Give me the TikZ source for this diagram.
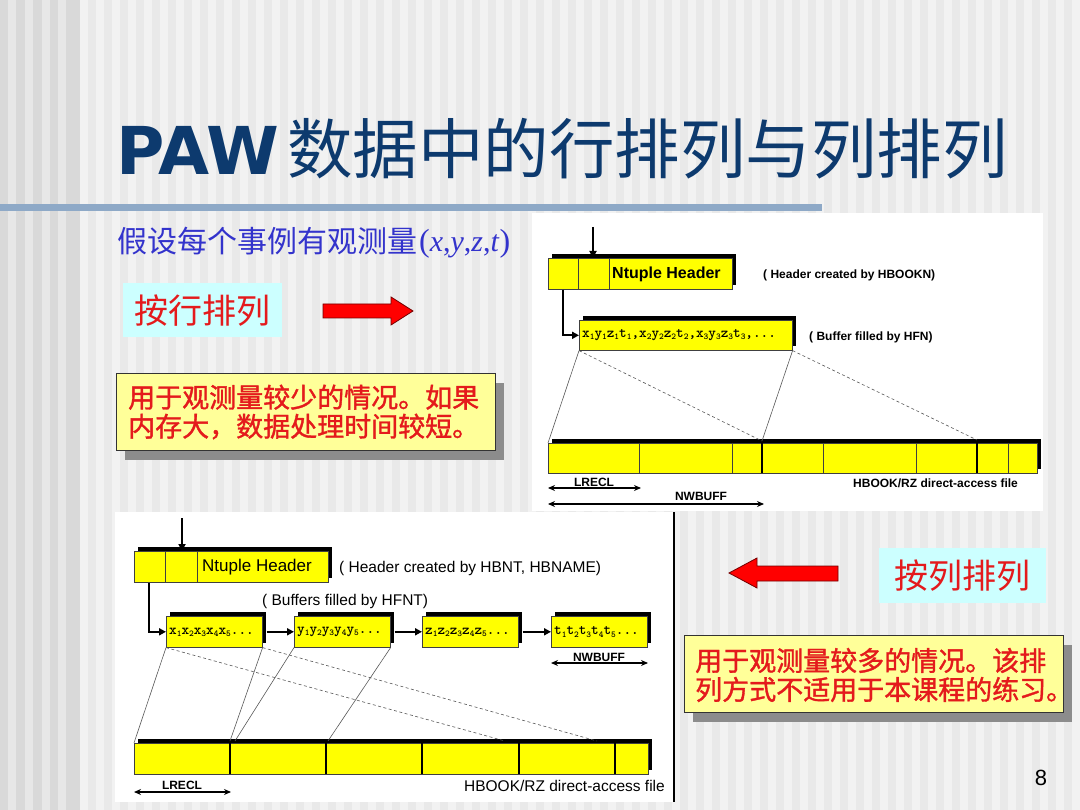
\documentclass[tikz,border=0pt]{standalone}
\usepackage{fontspec}
\setmainfont{Liberation Serif}
\newfontfamily\cjk{Noto Sans CJK SC}
\newfontfamily\cjkfb{Noto Sans CJK SC}[FakeBold=1.3]
\newfontfamily\arial{Liberation Sans}
\newfontfamily\djv{DejaVu Sans}
\newfontfamily\cour{lmmonolt10-bold.otf}
\usetikzlibrary{arrows.meta,shadows}
\definecolor{navy}{RGB}{13,58,110}
\definecolor{subblue}{RGB}{51,51,204}
\definecolor{txtred}{RGB}{228,26,28}
\definecolor{cyanbg}{RGB}{204,255,255}
\definecolor{noteyel}{RGB}{255,255,153}
\definecolor{diayel}{RGB}{255,255,0}
\definecolor{barblue}{RGB}{142,169,199}
\definecolor{bgmain}{RGB}{242,242,242}
\definecolor{bgstripe}{RGB}{233,233,233}
\definecolor{bgleft}{RGB}{217,217,217}
\definecolor{bgleftl}{RGB}{231,231,231}
\newcommand{\subn}[1]{\raisebox{-0.35ex}{\fontsize{9}{9}\selectfont#1}}
\newcommand{\fs}[1]{\fontsize{#1}{#1}\selectfont}
\begin{document}
\begin{tikzpicture}[x=1pt,y=-1pt,
  ybox/.style={fill=diayel, draw=black!75, line width=0.6, inner sep=0pt,
    anchor=north west,
    drop shadow={shadow xshift=4pt, shadow yshift=4pt, fill=black, opacity=1}},
  notebox/.style={fill=noteyel, draw=black!80, line width=0.8, inner sep=0pt, anchor=north west,
    drop shadow={shadow xshift=9pt, shadow yshift=-10pt, fill=black!45, opacity=1}},
  cyanbox/.style={fill=cyanbg, inner sep=0pt, anchor=north west, text=txtred, font=\cjk\fs{34}},
  conn/.style={line width=2, -{Triangle[length=7pt,width=7pt]}},
  dimarr/.style={line width=1.6, {Stealth[length=7pt,width=6pt]}-{Stealth[length=7pt,width=6pt]}},
  guide/.style={draw=black!65, line width=0.6},
  guided/.style={draw=black!65, line width=0.6, dash pattern=on 3pt off 2.5pt},
  thindiv/.style={draw=black!75, line width=0.6},
  thickdiv/.style={draw=black, line width=2.6},
  lbl/.style={inner sep=0pt, font=\arial\bfseries\fs{12}},
  lblr/.style={inner sep=0pt, font=\arial\fs{15.5}},
  buftext/.style={anchor=west, inner sep=0pt, font=\cour\fs{14.5}},
  redarrow/.style={fill=red, draw=red!45!black, line width=0.8},
  notetext/.style={inner sep=0pt, anchor=west, align=left, text=txtred, font=\cjkfb\fs{27}}
]
\useasboundingbox (0,0) rectangle (1080,810);
% background
\fill[bgmain] (0,0) rectangle (1080,810);
\foreach \i in {0,...,62} {\fill[bgstripe] (88+16*\i,0) rectangle ++(8,810);}
\fill[bgleft] (0,0) rectangle (80,810);
\foreach \xx in {8,25,42,58} {\fill[bgleftl] (\xx,0) rectangle ++(8,810);}
% title
\node[anchor=base west, inner sep=0pt, text=navy, font=\djv\bfseries\fs{66}] (tpaw) at (116,175) {PAW};
\node[anchor=base west, inner sep=0pt, text=navy, font=\cjk\fs{65.5}] (tcn) at (287,174) {数据中的行排列与列排列};
\fill[barblue] (0,204) rectangle (822,211);
% subtitle
\node[anchor=base west, inner sep=0pt, text=subblue, font=\cjk\fs{30}] (sub) at (117,253) {假设每个事例有观测量};
\node[anchor=base west, inner sep=0pt, text=subblue, font=\fs{30}] (subv) at (419,252)
  {\fs{32}(\fs{30}\textit{x},\textit{y},\textit{z},\textit{t}\fs{32})};
% white panels
\fill[white] (532,213) rectangle (1043,511);
\fill[white] (115,512) rectangle (673,802);
\draw[line width=1.4] (674,512) -- (674,802);

% ---------------- top diagram (row-wise)
\node[ybox, minimum width=184, minimum height=31] (h1) at (548,258) {};
\draw[thindiv] (578,258) -- (578,289);
\draw[thindiv] (609,258) -- (609,289);
\node[anchor=west, inner sep=0pt, font=\arial\bfseries\fs{16}] (h1t) at (612,274) {Ntuple Header};
\node[anchor=west, lbl] (h1c) at (763,275) {( Header created by HBOOKN)};
\coordinate (a1) at (593,227);
\draw[conn] (a1) -- (a1 |- h1.north);
\node[ybox, minimum width=213, minimum height=30] (b1) at (579,320) {};
\node[buftext] (b1t) at (582,335)
  {x\subn1y\subn1z\subn1t\subn1,x\subn2y\subn2z\subn2t\subn2,x\subn3y\subn3z\subn3t\subn3,...};
\node[anchor=west, lbl] (b1c) at (809,337) {( Buffer filled by HFN)};
\draw[conn] (h1.south west) ++(15,0) |- (b1.west);
\node[ybox, minimum width=489, minimum height=30] (f1) at (548,443) {};
\foreach \xx in {639,732,823,916,1008} {\draw[thindiv] (\xx,443) -- (\xx,473);}
\foreach \xx in {762,977} {\draw[thickdiv] (\xx,439) -- (\xx,473);}
\coordinate (t4) at (762,441);
\coordinate (t7) at (977,440);
\draw[guide] (b1.south west) -- (f1.north west);
\draw[guide] (b1.south east) -- (t4);
\draw[guided] (b1.south west) -- (t4);
\draw[guided] (b1.south east) -- (t7);
\node[lbl] (lr1) at (594,482) {LRECL};
\coordinate (lr1a) at (548,488);
\coordinate (lr1b) at (641,488);
\draw[dimarr] (lr1a) -- (lr1b);
\node[lbl] (nw1) at (701,496) {NWBUFF};
\coordinate (nw1a) at (548,504);
\coordinate (nw1b) at (764,504);
\draw[dimarr] (nw1a) -- (nw1b);
\node[anchor=west, lbl] (hb1) at (853,483) {HBOOK/RZ direct-access file};

% ---------------- bottom diagram (column-wise)
\node[ybox, minimum width=194, minimum height=31] (h2) at (134,551) {};
\draw[thindiv] (165,551) -- (165,582);
\draw[thindiv] (197,551) -- (197,582);
\node[anchor=west, inner sep=0pt, font=\arial\fs{17}] (h2t) at (202,567) {Ntuple Header};
\node[anchor=west, lblr] (h2c) at (339,568) {( Header created by HBNT, HBNAME)};
\node[anchor=west, lblr] (bfc) at (262,601) {( Buffers filled by HFNT)};
\coordinate (a2) at (182,518);
\draw[conn] (a2) -- (a2 |- h2.north);
\node[ybox, minimum width=96, minimum height=31] (c1) at (166,616) {};
\node[ybox, minimum width=96, minimum height=31] (c2) at (294,616) {};
\node[ybox, minimum width=96, minimum height=31] (c3) at (422,616) {};
\node[ybox, minimum width=96, minimum height=31] (c4) at (551,616) {};
\node[buftext] (c1t) at (169,632) {x\subn1x\subn2x\subn3x\subn4x\subn5...};
\node[buftext] (c2t) at (297,632) {y\subn1y\subn2y\subn3y\subn4y\subn5...};
\node[buftext] (c3t) at (425,632) {z\subn1z\subn2z\subn3z\subn4z\subn5...};
\node[buftext] (c4t) at (554,632) {t\subn1t\subn2t\subn3t\subn4t\subn5...};
\draw[conn] (h2.south west) ++(15,0) |- (c1.west);
\draw[conn] ([xshift=4pt]c1.east) -- (c2.west);
\draw[conn] ([xshift=4pt]c2.east) -- (c3.west);
\draw[conn] ([xshift=4pt]c3.east) -- (c4.west);
\node[lbl] (nw2) at (599,657) {NWBUFF};
\coordinate (nw2a) at (551,663);
\coordinate (nw2b) at (648,663);
\draw[dimarr] (nw2a) -- (nw2b);
\node[ybox, minimum width=514, minimum height=31] (f2) at (134,743) {};
\foreach \xx in {230,326,422,519,615} {\draw[thickdiv] (\xx,739) -- (\xx,774);}
\coordinate (u2) at (230,741);
\coordinate (u2b) at (235,741);
\coordinate (u3) at (328,741);
\coordinate (u5) at (505,741);
\coordinate (u6) at (597,741);
\draw[guide] (c1.south west) -- (f2.north west);
\draw[guide] (c1.south east) -- (u2);
\draw[guide] (c2.south west) -- (u2b);
\draw[guide] (c2.south east) -- (u3);
\draw[guided] (c1.south west) -- (u5);
\draw[guided] (c1.south east) -- (u6);
\node[lbl] (lr2) at (182,785) {LRECL};
\coordinate (lr2a) at (134,792);
\coordinate (lr2b) at (231,792);
\draw[dimarr] (lr2a) -- (lr2b);
\node[anchor=east, lblr] (hb2) at (665,786) {HBOOK/RZ direct-access file};

% ---------------- left annotations
\node[cyanbox, minimum width=159, minimum height=54] (row) at (123,283) {按行排列};
\draw[redarrow] (323,304) -- (391,304) -- (391,297) -- (413,311) -- (391,325) -- (391,318) -- (323,318) -- cycle;
\node[notebox, minimum width=379, minimum height=77] (n1) at (116,373) {};
\node[notetext] (n1t) at (128,412) {用于观测量较少的情况。如果\\[2pt]内存大，数据处理时间较短。};

% ---------------- right annotations
\draw[redarrow] (838,566) -- (757,566) -- (757,558) -- (729,573) -- (757,588) -- (757,581) -- (838,581) -- cycle;
\node[cyanbox, minimum width=167, minimum height=55] (col) at (879,548) {按列排列};
\node[notebox, minimum width=379, minimum height=77] (n2) at (684,635) {};
\node[notetext] (n2t) at (695,675) {用于观测量较多的情况。该排\\[2pt]列方式不适用于本课程的练习。};

\node[inner sep=0pt, font=\arial\fs{22}] (pg) at (1041,778) {8};
\end{tikzpicture}
\end{document}
